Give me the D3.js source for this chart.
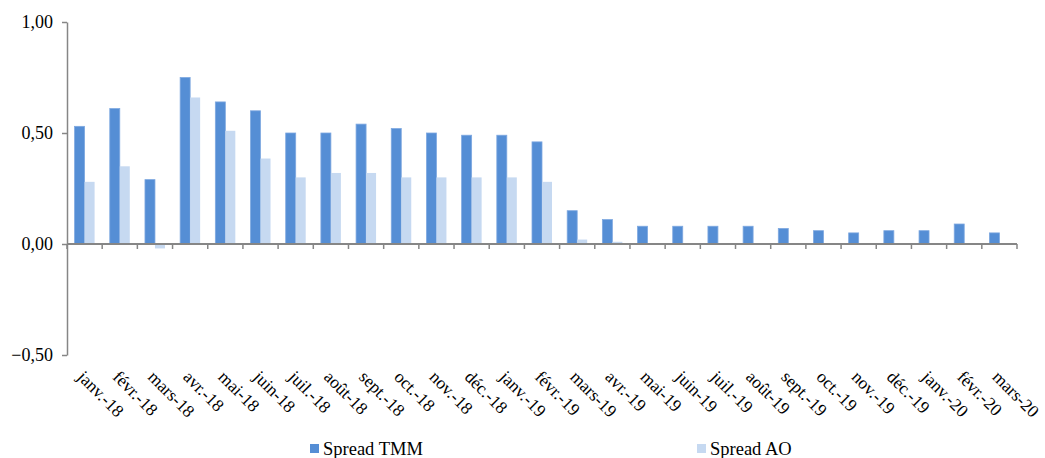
<!DOCTYPE html>
<html>
<head>
<meta charset="utf-8">
<script src="https://cdn.jsdelivr.net/npm/d3@7"></script>
<style>
  body { margin: 0; background: #fff; }
  svg text { font-family: "Liberation Serif", "Times New Roman", serif !important; fill: #000; }
</style>
</head>
<body>
<div id="chart"></div>
<script>
// months shown on the x axis
var months = ["janv.-18", "févr.-18", "mars-18", "avr.-18", "mai-18", "juin-18", "juil.-18", "août-18",
    "sept.-18", "oct.-18", "nov.-18", "déc.-18", "janv.-19", "févr.-19", "mars-19", "avr.-19", "mai-19",
    "juin-19", "juil.-19", "août-19", "sept.-19", "oct.-19", "nov.-19", "déc.-19", "janv.-20", "févr.-20", "mars-20"];

var spreadTMM = [0.53, 0.61, 0.29, 0.75, 0.64, 0.60, 0.50, 0.50, 0.54, 0.52, 0.50, 0.49, 0.49, 0.46,
    0.15, 0.11, 0.08, 0.08, 0.08, 0.08, 0.07, 0.06, 0.05, 0.06, 0.06, 0.09, 0.05];

var spreadAO = [0.28, 0.35, -0.02, 0.66, 0.51, 0.385, 0.30, 0.32, 0.32, 0.30, 0.30, 0.30, 0.30, 0.28,
    0.02, 0.01, 0, 0, 0, 0, 0, 0, 0, 0, 0, 0, 0];

var seriesNames = ["Spread TMM", "Spread AO"];
var yTicks = [-0.5, 0, 0.5, 1.0];

var colors = { "Spread TMM": "#558ed5", "Spread AO": "#c6d9f1" };

var width = 1045, height = 458;
var margin = { top: 22, left: 67, right: 28, bottom: 103 };

var svg = d3.select("#chart").append("svg")
    .attr("width", width)
    .attr("height", height);

var x = d3.scaleBand()
    .domain(months)
    .range([margin.left, width - margin.right]);

var xSeries = d3.scaleBand()
    .domain(seriesNames)
    .range([0, x.bandwidth()])
    .paddingInner(0)
    .paddingOuter(0.76);

var y = d3.scaleLinear()
    .domain([-0.5, 1.0])
    .range([height - margin.bottom, margin.top]);

var fmt = function(d) { return d3.format(".2f")(d).replace(".", ","); };

// bars
var rows = months.map(function(m, i) {
    return { month: m, values: [
        { name: "Spread TMM", value: spreadTMM[i] },
        { name: "Spread AO", value: spreadAO[i] }
    ] };
});

var groups = svg.selectAll(".month")
    .data(rows)
    .enter().append("g")
    .attr("class", "month")
    .attr("transform", function(d) { return "translate(" + x(d.month) + ",0)"; });

groups.selectAll("rect")
    .data(function(d) { return d.values; })
    .enter().append("rect")
    .attr("x", function(d) { return xSeries(d.name); })
    .attr("width", xSeries.bandwidth())
    .attr("y", function(d) { return y(Math.max(0, d.value)); })
    .attr("height", function(d) { return Math.abs(y(d.value) - y(0)); })
    .style("fill", function(d) { return colors[d.name]; })
    .style("stroke", function(d) { return d.name === "Spread TMM" ? "#7ea8e0" : "none"; })
    .style("stroke-width", 0.8);

// y axis
var yAxis = svg.append("g")
    .attr("transform", "translate(" + margin.left + ",0)")
    .call(d3.axisLeft(y).tickValues(yTicks).tickFormat(fmt).tickSize(5).tickSizeOuter(0));

yAxis.select(".domain").attr("stroke", "#868686").attr("stroke-width", 1.5);
yAxis.selectAll(".tick line").attr("stroke", "#868686").attr("stroke-width", 1.5);
yAxis.selectAll(".tick text")
    .attr("x", -14)
    .style("font-size", "18px");

// x axis at zero, ticks on band edges
var xAxis = svg.append("g")
    .attr("transform", "translate(0," + y(0) + ")");

xAxis.append("line")
    .attr("x1", margin.left)
    .attr("x2", width - margin.right)
    .attr("stroke", "#868686")
    .attr("stroke-width", 2);

xAxis.selectAll(".xtick")
    .data(months.concat(["end"]))
    .enter().append("line")
    .attr("class", "xtick")
    .attr("x1", function(d, i) { return margin.left + i * x.step(); })
    .attr("x2", function(d, i) { return margin.left + i * x.step(); })
    .attr("y1", 0)
    .attr("y2", 5)
    .attr("stroke", "#868686")
    .attr("stroke-width", 1.5);

// rotated month labels
svg.selectAll(".xlabel")
    .data(months)
    .enter().append("text")
    .attr("class", "xlabel")
    .attr("transform", function(d) {
        return "translate(" + (x(d) + x.bandwidth() / 2 - 8) + "," + (y(-0.5) + 23) + ") rotate(45)";
    })
    .style("font-size", "17.5px")
    .text(function(d) { return d; });

// legend
var legendX = [310, 697];
var legend = svg.selectAll(".legend")
    .data(seriesNames)
    .enter().append("g")
    .attr("class", "legend")
    .attr("transform", function(d, i) { return "translate(" + legendX[i] + ",444)"; });

legend.append("rect")
    .attr("width", 9)
    .attr("height", 9)
    .style("fill", function(d) { return colors[d]; });

legend.append("text")
    .attr("x", 13)
    .attr("y", 11)
    .style("font-size", "18.5px")
    .text(function(d) { return d; });
</script>
</body>
</html>
